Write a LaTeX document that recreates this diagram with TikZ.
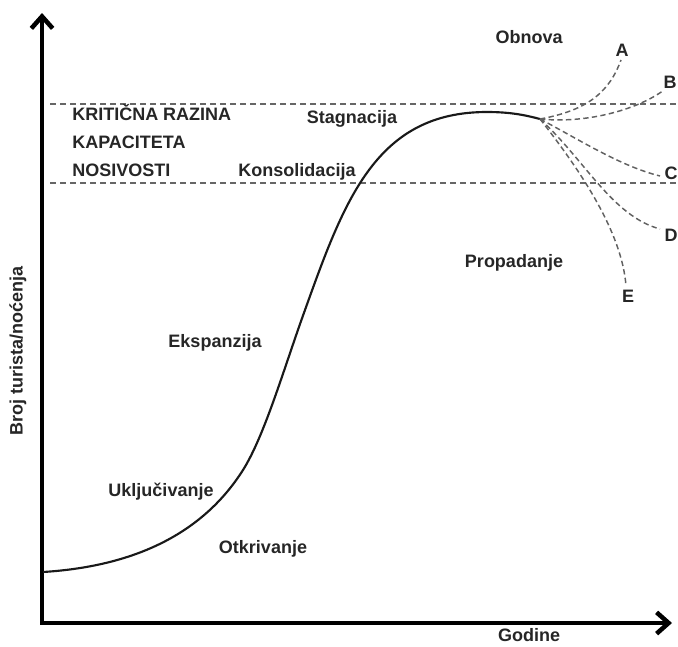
\documentclass[tikz,border=0pt]{standalone}
\usepackage{fontspec}
\setmainfont{Liberation Sans}
\usetikzlibrary{arrows.meta}
\begin{document}
\begin{tikzpicture}[x=0.75pt,y=-0.75pt,
  lbl/.style={font=\bfseries\fontsize{13.5}{15.5}\selectfont, text=black!85, inner sep=0pt},
  limit/.style={draw=black!60, line width=1.1pt, dash pattern=on 4.5pt off 3pt},
  branch/.style={draw=black!62, line width=1.1pt, dash pattern=on 4pt off 2.5pt},
  axis/.style={line width=3.4pt, line join=miter, {Straight Barb[length=9pt,width=16pt]}-{Straight Barb[length=9pt,width=16pt]}},
  lifecurve/.style={line width=1.6pt, black!90}]
\useasboundingbox (0,0) rectangle (678,646);
% axes
\coordinate (ytip) at (42,13);
\coordinate (origin) at (42,623);
\coordinate (xtip) at (672,623);
\draw[axis] (ytip) -- (origin) -- (xtip);
% carrying capacity band
\coordinate (u1) at (50,104); \coordinate (u2) at (678,104);
\coordinate (l1) at (50,183); \coordinate (l2) at (678,183);
\draw[limit] (u1) -- (u2);
\draw[limit] (l1) -- (l2);
% life cycle curve
\coordinate (start) at (43,572);
\coordinate (fan) at (540,119);
\draw[lifecurve] (start) .. controls (140,566) and (205,530) .. (243,470)
  .. controls (265,435) and (285,365) .. (305,310)
  .. controls (345,198) and (377,112) .. (487,112)
  .. controls (510,112) and (525,115) .. (fan);
% scenario labels
\node[lbl] (A) at (622,50) {A};
\node[lbl] (B) at (670,82) {B};
\node[lbl] (C) at (671,173) {C};
\node[lbl] (D) at (671,235) {D};
\node[lbl] (E) at (628,296) {E};
% branches
\draw[branch] (fan) .. controls (590,110) and (610,90) .. (621,60);
\draw[branch] (fan) .. controls (590,124) and (640,108) .. (664,90);
\draw[branch] (fan) .. controls (580,140) and (620,166) .. (660,176);
\draw[branch] (fan) .. controls (585,160) and (612,216) .. (660,229);
\draw[branch] (fan) .. controls (580,170) and (622,232) .. (626,286);
% stage labels
\node[lbl] (obnova) at (529,37) {Obnova};
\node[lbl] (propadanje) at (514,263) {Propadanje};
\node[lbl] (stagnacija) at (352,119) {Stagnacija};
\node[lbl] (konsolidacija) at (297,172) {Konsolidacija};
\node[lbl] (ekspanzija) at (215,343) {Ekspanzija};
\node[lbl] (ukljucivanje) at (161,492) {Uključivanje};
\node[lbl] (otkrivanje) at (263,549) {Otkrivanje};
\node[lbl, anchor=west, align=left, font=\bfseries\fontsize{13.5}{21}\selectfont] (kriticna) at (72,141) {KRITIČNA RAZINA\\KAPACITETA\\NOSIVOSTI};
\node[lbl] (godine) at (529,635) {Godine};
\node[lbl, rotate=90] (broj) at (18,351) {Broj turista/noćenja};
\end{tikzpicture}
\end{document}
